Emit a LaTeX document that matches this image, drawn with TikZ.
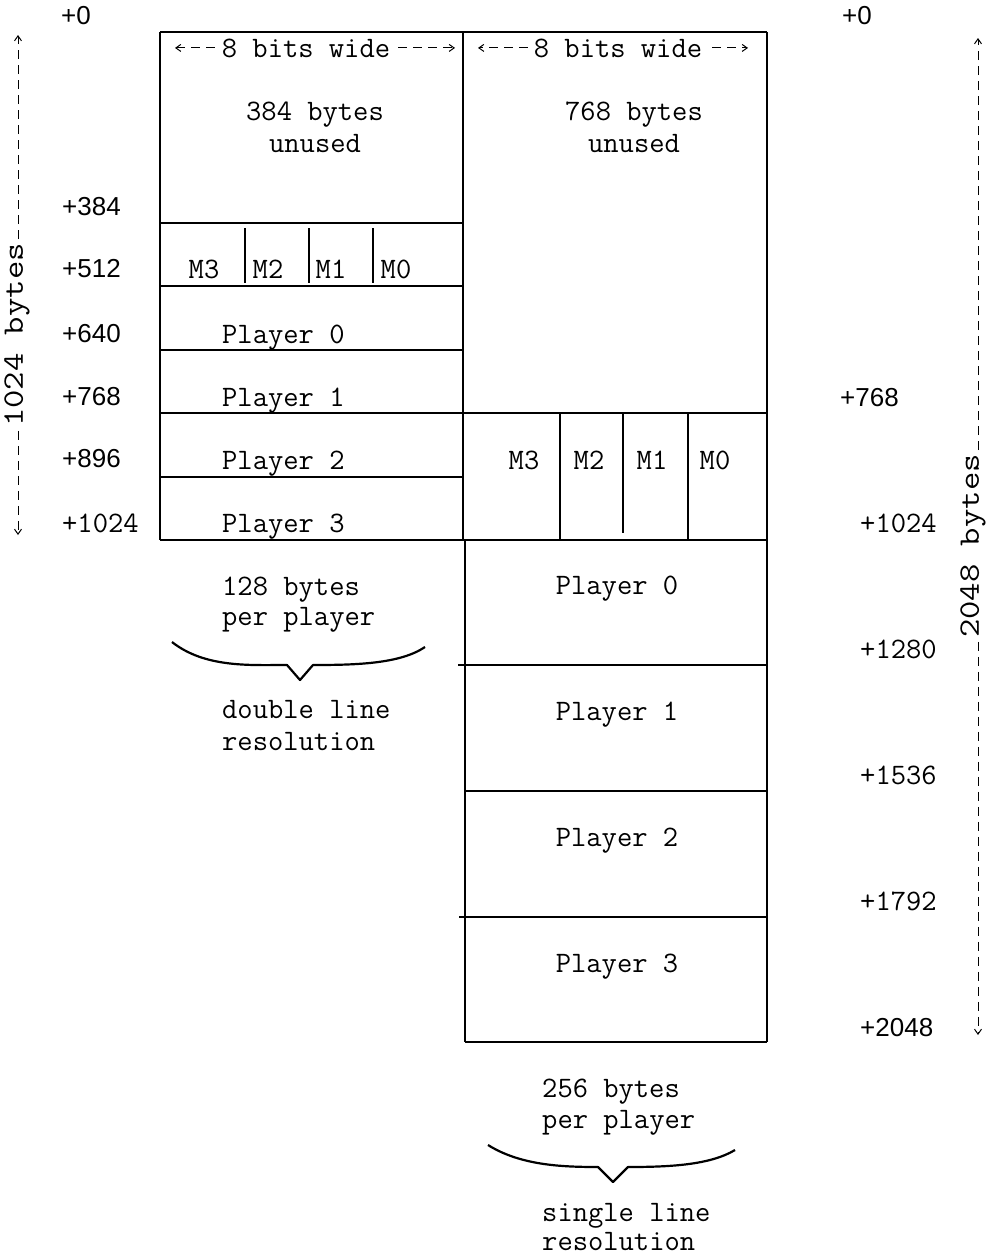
\documentclass[tikz,border=0pt]{standalone}
\usepackage{fontspec}
\usepackage{graphicx}
\newfontfamily\sansf{Liberation Sans}
\usetikzlibrary{arrows.meta}
\newcommand{\tmono}{\ttfamily\fontsize{29.7}{34}\selectfont}
\tikzset{
  mt/.style={font=\tmono, inner sep=0pt, anchor=base},
  mtw/.style={mt, anchor=base west},
  st/.style={font=\sansf\fontsize{26}{30}\selectfont, inner sep=0pt, anchor=base west},
  rot/.style={font=\tmono, inner sep=0pt, rotate=90, anchor=center},
  hl/.style={line width=2pt},
  vl/.style={line width=1.1pt},
  dim/.style={line width=1pt, dash pattern=on 9pt off 6pt},
  tipd/.style={-{Straight Barb[length=5pt,width=7pt]}},
  bracel/.style={line width=2.2pt, line join=round}
}
\begin{document}
\begin{tikzpicture}[x=1pt,y=-1pt]
\useasboundingbox (0,0) rectangle (986,1258);

% ---- boxes ----
\draw[hl] (160,32) -- (767,32);
\draw[vl] (160,32) -- (160,540);
\draw[vl] (463,32) -- (463,540);
\draw[vl] (465,540) -- (465,1042);
\draw[vl] (767,32) -- (767,1042);
\draw[hl] (160,223) -- (463,223);
\draw[hl] (160,286) -- (463,286);
\draw[hl] (160,350) -- (463,350);
\draw[hl] (160,413) -- (767,413);
\draw[hl] (160,477) -- (463,477);
\draw[hl] (160,540) -- (767,540);
\draw[hl] (458,665) -- (767,665);
\draw[hl] (465,791) -- (767,791);
\draw[hl] (459,917) -- (767,917);
\draw[hl] (465,1042) -- (767,1042);
% missile dividers
\draw[vl] (245,228) -- (245,283);
\draw[vl] (309,228) -- (309,283);
\draw[vl] (373,228) -- (373,283);
\draw[vl] (560,414) -- (560,540);
\draw[vl] (623,414) -- (623,533);
\draw[vl] (688,414) -- (688,540);

% ---- 8 bits wide ----
\node[mt] (b8l) at (306,57) {8 bits wide};
\coordinate (b8lL) at (175,49);
\coordinate (b8lR) at (455,49);
\draw[dim,tipd,shorten <=7pt] (b8l.west) -- (b8l.west -| b8lL);
\draw[dim,tipd,shorten <=8pt] (b8l.east) -- (b8l.east -| b8lR);
\node[mt] (b8r) at (618,57) {8 bits wide};
\coordinate (b8rL) at (478,49);
\coordinate (b8rR) at (748,49);
\draw[dim,tipd,shorten <=6pt] (b8r.west) -- (b8r.west -| b8rL);
\draw[dim,tipd,shorten <=10pt] (b8r.east) -- (b8r.east -| b8rR);

% ---- unused ----
\node[mt] (u1a) at (315,120) {384 bytes};
\node[mt] (u1b) at (315,152) {unused};
\node[mt] (u2a) at (634,120) {768 bytes};
\node[mt] (u2b) at (634,152) {unused};

% ---- left M row and players ----
\node[mt] (lm3) at (204,278) {M3};
\node[mt] (lm2) at (268,278) {M2};
\node[mt] (lm1) at (331,278) {M1};
\node[mt] (lm0) at (396,278) {M0};
\node[mtw] (lp0) at (222,343) {Player 0};
\node[mtw] (lp1) at (222,406) {Player 1};
\node[mtw] (lp2) at (222,469) {Player 2};
\node[mtw] (lp3) at (222,532) {Player 3};

% ---- right M row and players ----
\node[mt] (rm3) at (524,469) {M3};
\node[mt] (rm2) at (589,469) {M2};
\node[mt] (rm1) at (652,469) {M1};
\node[mt] (rm0) at (715,469) {M0};
\node[mt] (rp0) at (617,594) {Player 0};
\node[mt] (rp1) at (617,720) {Player 1};
\node[mt] (rp2) at (617,846) {Player 2};
\node[mt] (rp3) at (617,972) {Player 3};

% ---- left offsets ----
\node[st] (lo0) at (61,24) {+0};
\node[st] (lo384) at (62,215) {+384};
\node[st] (lo512) at (62,277) {+512};
\node[st] (lo640) at (62,342) {+640};
\node[st] (lo768) at (62,405) {+768};
\node[st] (lo896) at (62,467) {+896};
\node[mtw] (lo1024) at (62,532) {+1024};

% ---- right offsets ----
\node[st] (ro0) at (842,24) {+0};
\node[st] (ro768) at (840,406) {+768};
\node[mtw] (ro1024) at (860,532) {+1024};
\node[mtw] (ro1280) at (860,658) {+1280};
\node[mtw] (ro1536) at (860,784) {+1536};
\node[mtw] (ro1792) at (860,910) {+1792};
\node[st] (ro2048) at (860,1036) {+2048};

% ---- below left ----
\node[mtw] (bl1) at (222,595) {128 bytes};
\node[mtw] (bl2) at (222,625) {per player};
\draw[bracel] (172,642) .. controls (205,668) and (250,665) .. (287,665) -- (300,680) -- (313,665) .. controls (355,665) and (400,664) .. (425,647);
\node[mtw] (bl3) at (222,718) {double line};
\node[mtw] (bl4) at (222,750) {resolution};

% ---- below right ----
\node[mtw] (br1) at (542,1097) {256 bytes};
\node[mtw] (br2) at (542,1128) {per player};
\draw[bracel] (488,1145) .. controls (520,1165) and (560,1167) .. (598,1167) -- (613,1182) -- (628,1167) .. controls (670,1167) and (710,1165) .. (735,1150);
\node[mtw] (br3) at (542,1221) {single line};
\node[mtw] (br4) at (542,1250) {resolution};

% ---- vertical dimensions ----
\node[rot] (dl) at (17,335) {\scalebox{1.2}[1]{1024 bytes}};
\coordinate (dlT) at (18,35);
\coordinate (dlB) at (18,535);
\draw[dim,tipd,shorten <=4pt] (dl.east -| dlT) -- (dlT);
\draw[dim,tipd,shorten <=4pt] (dl.west -| dlB) -- (dlB);
\node[rot] (dr) at (973,546) {\scalebox{1.2}[1]{2048 bytes}};
\coordinate (drT) at (978,38);
\coordinate (drB) at (978,1035);
\draw[dim,tipd,shorten <=4pt] (dr.east -| drT) -- (drT);
\draw[dim,tipd,shorten <=4pt] (dr.west -| drB) -- (drB);
\end{tikzpicture}
\end{document}
